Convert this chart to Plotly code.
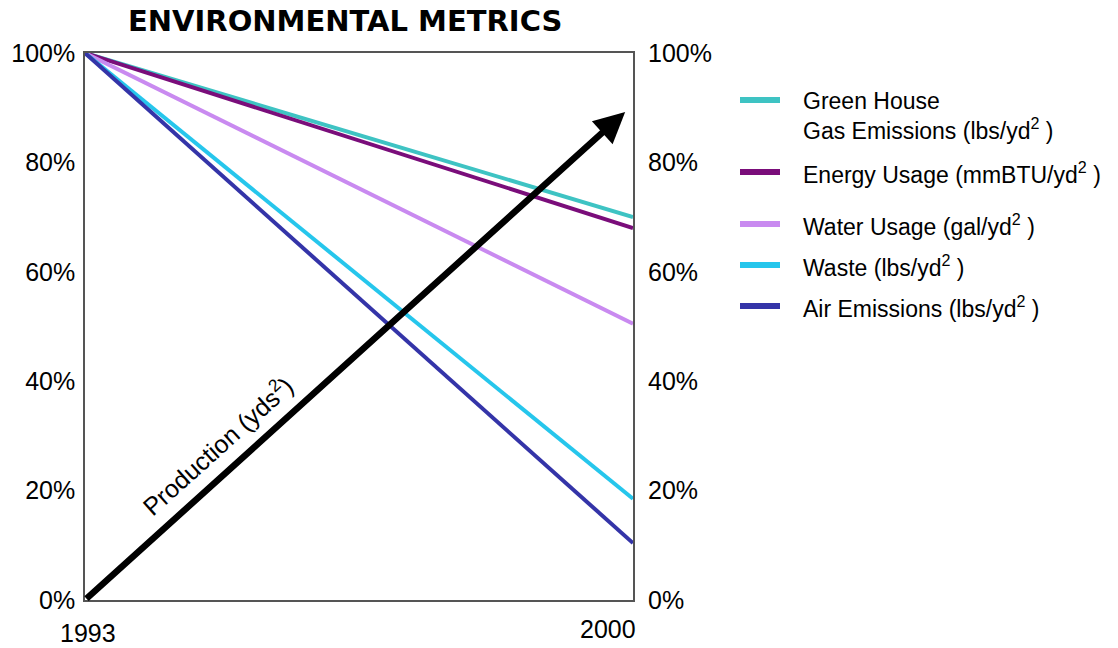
import plotly.graph_objects as go

# ---- data ----
years = [1993, 2000]
year_labels = ["1993", "2000"]
series_names = [
    "Green House<br>Gas Emissions (lbs/yd<sup>2</sup> )",
    "Energy Usage (mmBTU/yd<sup>2</sup> )",
    "Water Usage (gal/yd<sup>2</sup> )",
    "Waste (lbs/yd<sup>2</sup> )",
    "Air Emissions (lbs/yd<sup>2</sup> )",
]
greenhouse = [1.00, 0.70]
energy = [1.00, 0.68]
water = [1.00, 0.505]
waste = [1.00, 0.185]
air = [1.00, 0.104]
production_years = [1993, 1999.9]
production = [0.0, 0.892]
y_ticks = [0, 0.2, 0.4, 0.6, 0.8, 1.0]
y_tick_labels = ["0%", "20%", "40%", "60%", "80%", "100%"]

colors = ["#3EC3C3", "#7A0D7A", "#C98AF0", "#26C6EC", "#3434A8"]
series_values = [greenhouse, energy, water, waste, air]

# ---- layout geometry (pixels) ----
W, H = 1118, 648
L, R, T, B = 85, 633, 53, 600


def px_x(p):
    return (p - L) / (R - L)


def px_y(p):
    return (B - p) / (B - T)


fig = go.Figure()
for name, vals, col in zip(series_names, series_values, colors):
    fig.add_trace(go.Scatter(x=years, y=vals, mode="lines", name=name,
                             line=dict(color=col, width=4), showlegend=False))

# invisible trace on right axis so it renders
fig.add_trace(go.Scatter(x=years, y=[None, None], yaxis="y2", showlegend=False,
                         hoverinfo="skip"))

tick_font = dict(family="Arial, Liberation Sans, sans-serif", size=25, color="black")

fig.update_layout(
    width=W, height=H,
    margin=dict(l=L, r=W - R, t=T, b=H - B, pad=0, autoexpand=False),
    paper_bgcolor="white", plot_bgcolor="white",
    showlegend=False,
    xaxis=dict(range=[years[0], years[-1]], showgrid=False, zeroline=False,
               showticklabels=False, ticks="", showline=True, linecolor="#555555",
               linewidth=1.5, mirror=True, automargin=False),
    yaxis=dict(range=[0, 1], tickvals=y_ticks, ticktext=y_tick_labels,
               showgrid=False, zeroline=False, ticks="", showline=True,
               linecolor="#555555", linewidth=1.5, mirror=True,
               tickfont=tick_font, ticklabelstandoff=3, automargin=False),
    yaxis2=dict(range=[0, 1], tickvals=y_ticks, ticktext=y_tick_labels,
                overlaying="y", side="right", showgrid=False, zeroline=False,
                ticks="", showline=False, tickfont=tick_font,
                ticklabelstandoff=14, automargin=False),
)

annotations = []
# title
annotations.append(dict(text="<b>ENVIRONMENTAL METRICS</b>", xref="paper", yref="paper",
                        x=px_x(345), y=px_y(21), xanchor="center", yanchor="middle",
                        showarrow=False,
                        font=dict(family="DejaVu Sans, Arial Black, sans-serif",
                                  size=29, color="black")))
# x labels
x_shifts = [3, -25]
y_shifts = [-33, -29]
for yr, lab, sx, sy in zip(years, year_labels, x_shifts, y_shifts):
    annotations.append(dict(text=lab, x=yr, y=0, xref="x", yref="paper",
                            yshift=sy, xshift=sx, showarrow=False,
                            xanchor="center", yanchor="middle", font=tick_font))
# production arrow
annotations.append(dict(x=production_years[1], y=production[1], ax=production_years[0],
                        ay=production[0], xref="x", yref="y", axref="x", ayref="y",
                        text="", showarrow=True, arrowhead=2, arrowwidth=6.5,
                        arrowsize=0.95, arrowcolor="black"))
annotations.append(dict(text="Production (yds<sup>2</sup>)", x=px_x(217), y=px_y(445),
                        xref="paper", yref="paper", showarrow=False, textangle=-42,
                        xanchor="center", yanchor="middle",
                        font=dict(family="Arial, Liberation Sans, sans-serif", size=25,
                                  color="black")))

# manual legend
legend_swatch_y = [100, 172, 224, 265, 306]
legend_text_y = [116, 173, 225, 266, 307]
shapes = []
for name, col, sy, ty in zip(series_names, colors, legend_swatch_y, legend_text_y):
    shapes.append(dict(type="line", xref="paper", yref="paper",
                       x0=px_x(740), x1=px_x(780), y0=px_y(sy), y1=px_y(sy),
                       line=dict(color=col, width=6)))
    annotations.append(dict(text=name, xref="paper", yref="paper", x=px_x(801),
                            y=px_y(ty), xanchor="left", yanchor="middle",
                            align="left", showarrow=False,
                            font=dict(family="Arial, Liberation Sans, sans-serif",
                                      size=23, color="black")))

fig.update_layout(annotations=annotations, shapes=shapes)
fig.write_html("out.html")
